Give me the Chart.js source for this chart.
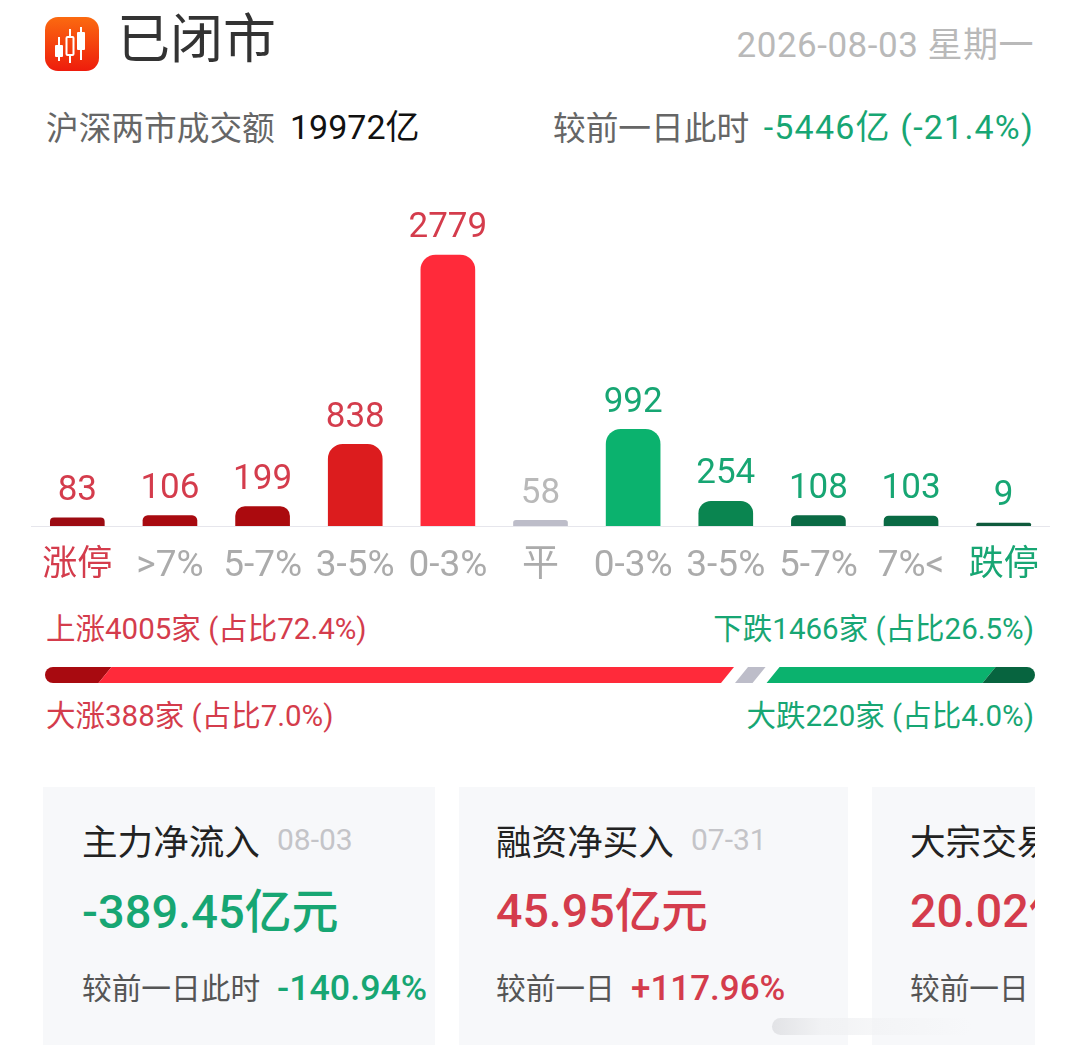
<!DOCTYPE html>
<html>
<head>
<meta charset="utf-8">
<script src="https://cdn.jsdelivr.net/npm/chart.js@4"></script>
<style>
  html, body { margin: 0; padding: 0; background: #fff; }
  body { width: 1080px; height: 1049px; position: relative; overflow: hidden; font-family: Roboto, "Noto Sans CJK SC", sans-serif; }
  .t { position: absolute; white-space: nowrap; line-height: 1; }
  .red { color: #d43c4c; }
  .green { color: #17a673; }
  .card { position: absolute; top: 787px; height: 258px; background: #f7f8fa; overflow: hidden; }
  canvas { position: absolute; }
</style>
</head>
<body>
<svg style="position:absolute;left:45px;top:17px" width="54" height="54" viewBox="0 0 54 54">
  <defs>
    <linearGradient id="ic" x1="0" y1="0" x2="0" y2="1">
      <stop offset="0" stop-color="#fb6a10"/><stop offset="1" stop-color="#ee1c0c"/>
    </linearGradient>
  </defs>
  <rect width="54" height="54" rx="13" fill="url(#ic)"/>
  <path d="M14 20v8M14 40v4M25 12v8M25 38v8M36 10v5M36 33v10" stroke="#fff" stroke-width="2"/>
  <rect x="10" y="28" width="8" height="12" rx="1" fill="#fff"/>
  <rect x="21.5" y="20" width="7" height="18" rx="1" fill="none" stroke="#fff" stroke-width="2"/>
  <rect x="32" y="15" width="8" height="18" rx="1" fill="#fff"/>
</svg>

<div class="t" style="left:117px;top:14px;font-size:53px;color:#333">已闭市</div>
<div class="t" style="right:46px;top:28px;font-size:35px;letter-spacing:0.5px;color:#b9b9b9">2026-08-03 星期一</div>
<div class="t" style="left:46px;top:113px;font-size:32.7px;color:#666">沪深两市成交额</div>
<div class="t" style="left:290px;top:110px;font-size:34px;color:#111">19972亿</div>
<div class="t" style="left:553px;top:113px;font-size:32.7px;color:#666">较前一日此时</div>
<div class="t green" style="right:46px;top:110px;font-size:34px;letter-spacing:1.2px">-5446亿 (-21.4%)</div>

<canvas id="barChart" width="1019" height="400" style="left:31px;top:190px"></canvas>

<div class="t red" style="left:46px;top:615px;font-size:29.5px">上涨4005家 (占比72.4%)</div>
<div class="t green" style="right:46px;top:615px;font-size:29.5px">下跌1466家 (占比26.5%)</div>
<canvas id="breadthChart" width="990" height="16" style="left:45px;top:667px"></canvas>
<div class="t red" style="left:46px;top:702px;font-size:29.5px">大涨388家 (占比7.0%)</div>
<div class="t green" style="right:46px;top:702px;font-size:29.5px">大跌220家 (占比4.0%)</div>

<div class="card" style="left:43px;width:392px"></div>
<div class="card" style="left:459px;width:389px"></div>
<div class="card" style="left:872px;width:163px">
  <div class="t" style="left:38px;top:39px;font-size:35.6px;color:#222">大宗交易</div>
  <div class="t red" style="left:38px;top:101px;font-size:46.5px;font-weight:500">20.02亿元</div>
  <div class="t" style="left:38px;top:187px;font-size:29.7px;color:#555">较前一日</div>
</div>

<div class="t" style="left:82px;top:826px;font-size:35.6px;color:#222">主力净流入</div>
<div class="t" style="left:277px;top:825px;font-size:30px;color:#c4c4c8">08-03</div>
<div class="t green" style="left:82px;top:888px;font-size:47px;font-weight:500">-389.45亿元</div>
<div class="t" style="left:82px;top:974px;font-size:29.7px;color:#555">较前一日此时</div>
<div class="t green" style="left:277px;top:971px;font-size:35.8px;font-weight:500">-140.94%</div>

<div class="t" style="left:496px;top:826px;font-size:35.6px;color:#222">融资净买入</div>
<div class="t" style="left:691px;top:825px;font-size:30px;color:#c4c4c8">07-31</div>
<div class="t red" style="left:496px;top:888px;font-size:46.5px;font-weight:500">45.95亿元</div>
<div class="t" style="left:496px;top:974px;font-size:29.7px;color:#555">较前一日</div>
<div class="t red" style="left:631px;top:971px;font-size:35px;font-weight:500">+117.96%</div>

<!-- faint watermark smear along the bottom edge -->
<div style="position:absolute;left:772px;top:1018px;width:200px;height:17px;border-radius:9px;background:linear-gradient(90deg,#e2e3e6,#f1f2f4 25%,rgba(247,248,250,0))"></div>

<script>
const categories = ['涨停', '>7%', '5-7%', '3-5%', '0-3%', '平', '0-3%', '3-5%', '5-7%', '7%<', '跌停'];
const counts = [83, 106, 199, 838, 2779, 58, 992, 254, 108, 103, 9];
const barColors = ['#9c0b12', '#a80a10', '#ab0a0e', '#dc1c1e', '#ff2a3a', '#bdbdc9', '#0bb26e', '#0a8550', '#0a6a44', '#0a6a44', '#0f5a3c'];
const valueColors = ['#d43c4c', '#d43c4c', '#d43c4c', '#d43c4c', '#d43c4c', '#b9b9b9', '#17a673', '#17a673', '#17a673', '#17a673', '#17a673'];
const tickColors = ['#d43c4c', '#ababab', '#ababab', '#ababab', '#ababab', '#ababab', '#ababab', '#ababab', '#ababab', '#ababab', '#17a673'];

// share of the strip length each segment takes
const breadthNames = ['大涨', '上涨', '平', '下跌', '大跌'];
const breadthShares = [6.06, 62.88, 4.6, 21.82, 4.64];
const breadthColors = ['#a80a10', '#ff2a3a', '#bdbdc9', '#0bb26e', '#07643f'];

const fontStack = 'Roboto, "Noto Sans CJK SC", sans-serif';

const valueLabels = {
  id: 'valueLabels',
  afterDatasetsDraw(chart) {
    const ctx = chart.ctx;
    ctx.save();
    ctx.font = '35px ' + fontStack;
    ctx.textAlign = 'center';
    ctx.textBaseline = 'bottom';
    chart.getDatasetMeta(0).data.forEach((bar, i) => {
      ctx.fillStyle = valueColors[i];
      ctx.fillText(counts[i], bar.x, bar.y - 9);
    });
    ctx.restore();
  }
};

new Chart(document.getElementById('barChart'), {
  type: 'bar',
  plugins: [valueLabels],
  data: {
    labels: categories,
    datasets: [{
      data: counts,
      backgroundColor: barColors,
      barThickness: 54,
      minBarLength: 3,
      borderSkipped: false,
      borderRadius: { topLeft: 15, topRight: 15, bottomLeft: 0, bottomRight: 0 }
    }]
  },
  options: {
    responsive: false,
    animation: false,
    layout: { padding: 0 },
    plugins: { legend: { display: false }, tooltip: { enabled: false } },
    scales: {
      x: {
        afterFit: scale => {
          scale.height = 64;
          scale.paddingLeft = 0;
          scale.paddingRight = 0;
        },
        grid: { display: false },
        border: { display: true, color: '#e6e6ec', width: 1 },
        ticks: {
          padding: 11,
          maxRotation: 0,
          autoSkip: false,
          color: ctx => tickColors[ctx.index],
          font: ctx => ({
            family: fontStack,
            size: (ctx.index === 0 || ctx.index === 10) ? 35 : 37
          })
        }
      },
      y: { display: false, min: 0, max: 3446 }
    }
  }
});

// the strip's ends are rounded and its segment edges lean, so the bars are painted here
const slantedSegments = {
  id: 'slantedSegments',
  afterDatasetsDraw(chart) {
    const ctx = chart.ctx;
    const area = chart.chartArea;
    const lean = 6.5;
    ctx.save();
    ctx.beginPath();
    ctx.roundRect(area.left, area.top, area.right - area.left, area.bottom - area.top, 8);
    ctx.clip();
    breadthShares.forEach((share, i) => {
      const bar = chart.getDatasetMeta(i).data[0];
      const inset = breadthNames[i] === '平' ? 14 : 0;
      const left = (i === 0 ? bar.base - 20 : bar.base) + inset;
      const right = (i === breadthShares.length - 1 ? bar.x + 20 : bar.x) - inset;
      ctx.fillStyle = breadthColors[i];
      ctx.beginPath();
      ctx.moveTo(left + lean, area.top);
      ctx.lineTo(right + lean, area.top);
      ctx.lineTo(right - lean, area.bottom);
      ctx.lineTo(left - lean, area.bottom);
      ctx.closePath();
      ctx.fill();
    });
    ctx.restore();
  }
};

new Chart(document.getElementById('breadthChart'), {
  type: 'bar',
  plugins: [slantedSegments],
  data: {
    labels: ['breadth'],
    datasets: breadthShares.map((share, i) => ({
      label: breadthNames[i],
      data: [share],
      backgroundColor: 'rgba(0,0,0,0)',
      categoryPercentage: 1,
      barPercentage: 1
    }))
  },
  options: {
    indexAxis: 'y',
    responsive: false,
    animation: false,
    layout: { padding: 0 },
    plugins: { legend: { display: false }, tooltip: { enabled: false } },
    scales: {
      x: { display: false, stacked: true, min: 0, max: 100 },
      y: { display: false, stacked: true }
    }
  }
});
</script>
</body>
</html>
